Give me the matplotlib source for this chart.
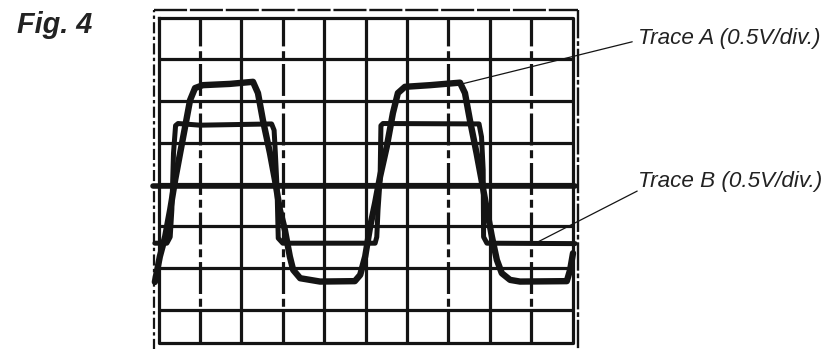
import matplotlib.pyplot as plt

# oscilloscope screen, in divisions (x: time div, y: volt div, 0 = centre line)
trace_a_t = [-0.09, 0.03, 0.16, 0.28, 0.40, 0.52, 0.64, 0.76, 0.88, 1.07,
             1.72, 2.28, 2.40, 2.52, 2.69, 2.81, 2.93, 3.05, 3.17, 3.25,
             3.42, 3.90, 4.74, 4.87, 4.99, 5.11, 5.23, 5.35, 5.51, 5.66,
             5.78, 5.95, 6.56, 7.28, 7.40, 7.52, 7.68, 7.80, 7.93, 8.05,
             8.17, 8.29, 8.49, 8.73, 9.86, 9.94, 10.01]
trace_a_v = [-2.34, -1.73, -1.25, -0.61, 0.11, 0.75, 1.38, 2.02, 2.31, 2.38,
             2.41, 2.46, 2.19, 1.54, 0.75, 0.11, -0.61, -1.09, -1.73, -2.05,
             -2.25, -2.33, -2.32, -2.17, -1.73, -1.01, -0.45, 0.19, 0.90, 1.71,
             2.19, 2.34, 2.38, 2.44, 2.19, 1.54, 0.75, 0.11, -0.61, -1.25,
             -1.81, -2.13, -2.29, -2.33, -2.32, -2.05, -1.65]

trace_b_t = [-0.09, 0.20, 0.28, 0.32, 0.36, 0.41, 0.47, 1.00, 2.73, 2.79,
             2.82, 2.86, 2.89, 3.00, 5.23, 5.27, 5.30, 5.35, 5.37, 5.42,
             7.74, 7.80, 7.84, 7.85, 7.93, 10.06]
trace_b_v = [-1.41, -1.41, -1.26, -0.61, 0.75, 1.41, 1.46, 1.42, 1.45, 1.30,
             0.75, -0.06, -1.29, -1.41, -1.41, -1.26, -0.61, 0.11, 1.41, 1.46,
             1.45, 1.14, 0.35, -1.26, -1.41, -1.42]

ref_t = [-0.13, 10.06]
ref_v = [-0.05, -0.05]

grid_x = [1, 2, 3, 4, 5, 6, 7, 8, 9]
grid_y = [-3, -2, -1, 0, 1, 2, 3]
dashed_x = [1, 3, 7, 9]

label_a = 'Trace A (0.5V/div.)'
label_b = 'Trace B (0.5V/div.)'
fig_title = 'Fig. 4'

ink = '#141414'

fig = plt.figure(figsize=(8.29, 3.49), dpi=100)
ax = fig.add_axes([0, 0, 1, 1])
# 41.4 px per time div, 41.7 px per volt div
ax.set_xlim(-158.6 / 41.4, (829 - 158.6) / 41.4)
ax.set_ylim((184.4 - 349) / 41.7, 184.4 / 41.7)
ax.axis('off')

top, bottom = 4.0, -3.80

# graticule
for y in grid_y:
    ax.plot([0, 10], [y, y], color=ink, lw=2.3, solid_capstyle='butt')
for x in grid_x:
    if x in dashed_x:
        ax.plot([x, x], [bottom, top], color=ink, lw=2.3, dashes=(10, 1.5, 2.5, 1.5))
    else:
        ax.plot([x, x], [bottom, top], color=ink, lw=2.3, solid_capstyle='butt')
ax.plot([0, 10, 10, 0, 0], [top, top, bottom, bottom, top], color=ink, lw=2.3)

# outer bezel
ax.plot([-0.11, -0.11], [bottom - 0.2, 4.18], color=ink, lw=1.6, dashes=(5, 1.5, 1.5, 1.5))
ax.plot([-0.11, 10.13], [4.18, 4.18], color=ink, lw=1.7, dashes=(14, 1.2))
ax.plot([10.13, 10.13], [4.18, bottom - 0.2], color=ink, lw=1.7, dashes=(12, 1.2, 2, 1.2))

# traces
ax.plot(ref_t, ref_v, color=ink, lw=4.0, solid_capstyle='round')
ax.plot(trace_b_t, trace_b_v, color=ink, lw=3.6, solid_joinstyle='round',
        solid_capstyle='round')
ax.plot(trace_a_t, trace_a_v, color=ink, lw=4.6, solid_joinstyle='round',
        solid_capstyle='round')

# labels with leader lines
txt = dict(fontfamily='Liberation Sans', fontstyle='italic', fontsize=16.2,
           color='#222222', ha='left', va='baseline')
ax.annotate('', xy=(7.33, 2.41), xytext=(11.44, 3.42),
            arrowprops=dict(arrowstyle='-', color=ink, lw=0.9, shrinkA=0, shrinkB=0))
ax.text(11.58, 3.36, label_a, **txt)
ax.annotate('', xy=(9.16, -1.38), xytext=(11.56, -0.16),
            arrowprops=dict(arrowstyle='-', color=ink, lw=0.9, shrinkA=0, shrinkB=0))
ax.text(11.58, -0.06, label_b, **txt)

ax.text(-3.42, 3.62, fig_title, fontfamily='Liberation Sans', fontstyle='italic',
        fontweight='bold', fontsize=20.8, color='#222222', ha='left', va='baseline')

fig.savefig('out.png', dpi=100, facecolor='white')
